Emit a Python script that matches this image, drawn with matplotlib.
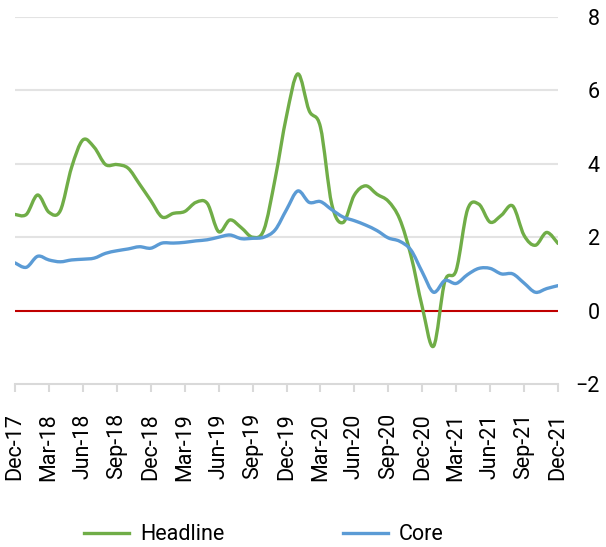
import numpy as np
import matplotlib.pyplot as plt
from matplotlib.path import Path
from matplotlib.patches import PathPatch
from matplotlib.lines import Line2D

plt.rcParams['font.family'] = ['Roboto', 'DejaVu Sans']

# ------------------------------
# Data (monthly, Dec-17 .. Dec-21)
# ------------------------------
months = ["Dec-17", "Jan-18", "Feb-18", "Mar-18", "Apr-18", "May-18", "Jun-18", "Jul-18",
          "Aug-18", "Sep-18", "Oct-18", "Nov-18", "Dec-18", "Jan-19", "Feb-19", "Mar-19",
          "Apr-19", "May-19", "Jun-19", "Jul-19", "Aug-19", "Sep-19", "Oct-19", "Nov-19",
          "Dec-19", "Jan-20", "Feb-20", "Mar-20", "Apr-20", "May-20", "Jun-20", "Jul-20",
          "Aug-20", "Sep-20", "Oct-20", "Nov-20", "Dec-20", "Jan-21", "Feb-21", "Mar-21",
          "Apr-21", "May-21", "Jun-21", "Jul-21", "Aug-21", "Sep-21", "Oct-21", "Nov-21",
          "Dec-21"]

headline = [2.62, 2.62, 3.15, 2.68, 2.72, 3.90, 4.65, 4.45, 3.98, 3.98, 3.88, 3.45,
            3.00, 2.55, 2.65, 2.70, 2.95, 2.92, 2.15, 2.47, 2.26, 2.00, 2.20, 3.60,
            5.30, 6.45, 5.45, 5.00, 2.90, 2.40, 3.15, 3.40, 3.17, 2.98, 2.50, 1.50,
            0.10, -0.97, 0.80, 1.10, 2.75, 2.90, 2.41, 2.60, 2.85, 2.05, 1.78, 2.13,
            1.83]

core = [1.30, 1.18, 1.48, 1.38, 1.33, 1.38, 1.40, 1.43, 1.56, 1.63, 1.68, 1.74,
        1.70, 1.84, 1.84, 1.86, 1.90, 1.93, 2.00, 2.06, 1.96, 1.97, 2.00, 2.20,
        2.75, 3.26, 2.95, 2.97, 2.75, 2.55, 2.45, 2.33, 2.18, 1.98, 1.89, 1.65,
        1.05, 0.50, 0.82, 0.74, 0.98, 1.15, 1.15, 1.00, 1.00, 0.75, 0.50, 0.60,
        0.68]

green = "#70ad47"
blue = "#5b9bd5"


def smooth_path(xs, ys):
    # Excel-style smoothed line: Catmull-Rom segments drawn as cubic Beziers
    pts = np.column_stack([xs, ys]).astype(float)
    verts = [pts[0]]
    codes = [Path.MOVETO]
    n = len(pts)
    for i in range(n - 1):
        p0 = pts[max(i - 1, 0)]
        p1 = pts[i]
        p2 = pts[i + 1]
        p3 = pts[min(i + 2, n - 1)]
        c1 = p1 + (p2 - p0) / 6.0
        c2 = p2 - (p3 - p1) / 6.0
        verts += [c1, c2, p2]
        codes += [Path.CURVE4] * 3
    return Path(verts, codes)


fig = plt.figure(figsize=(6.06, 5.47), dpi=100)
ax = fig.add_axes([15 / 606, 1 - 384 / 547, (558 - 15) / 606, (384 - 17) / 547])

x = np.arange(len(months))

for v in [2, 4, 6, 8]:
    ax.axhline(v, color="#e3e3e3", lw=1.5, zorder=1)
ax.axhline(0, color="#c00000", lw=1.5, zorder=2)

for series, col in [(headline, green), (core, blue)]:
    ax.add_patch(PathPatch(smooth_path(x, series), facecolor="none", edgecolor=col,
                           lw=2.4, capstyle="round", joinstyle="round", zorder=3))

ax.set_xlim(0, len(months) - 1)
ax.set_ylim(-2, 8)

for s in ["top", "left", "right"]:
    ax.spines[s].set_visible(False)
ax.spines["bottom"].set_color("#d9d9d9")
ax.spines["bottom"].set_linewidth(1.5)

tick_pos = x[::3]
ax.set_xticks(tick_pos)
ax.set_xticklabels([months[i] for i in tick_pos], rotation=90, fontsize=15.5)
ax.tick_params(axis="x", length=6, width=1.5, color="#d9d9d9", pad=15)

ax.set_yticks([-2, 0, 2, 4, 6, 8])
ax.yaxis.tick_right()
ax.tick_params(axis="y", length=0, pad=30, labelsize=15.5)
for lab in ax.get_yticklabels():
    lab.set_horizontalalignment("right")

handles = [Line2D([], [], color=green, lw=2.4), Line2D([], [], color=blue, lw=2.4)]
fig.legend(handles, ["Headline", "Core"], loc="center", bbox_to_anchor=(0.435, 0.022),
           ncol=2, frameon=False, fontsize=15.5, handlelength=2.1,
           handletextpad=0.5, columnspacing=5.5)

fig.savefig("out.png", dpi=100)
